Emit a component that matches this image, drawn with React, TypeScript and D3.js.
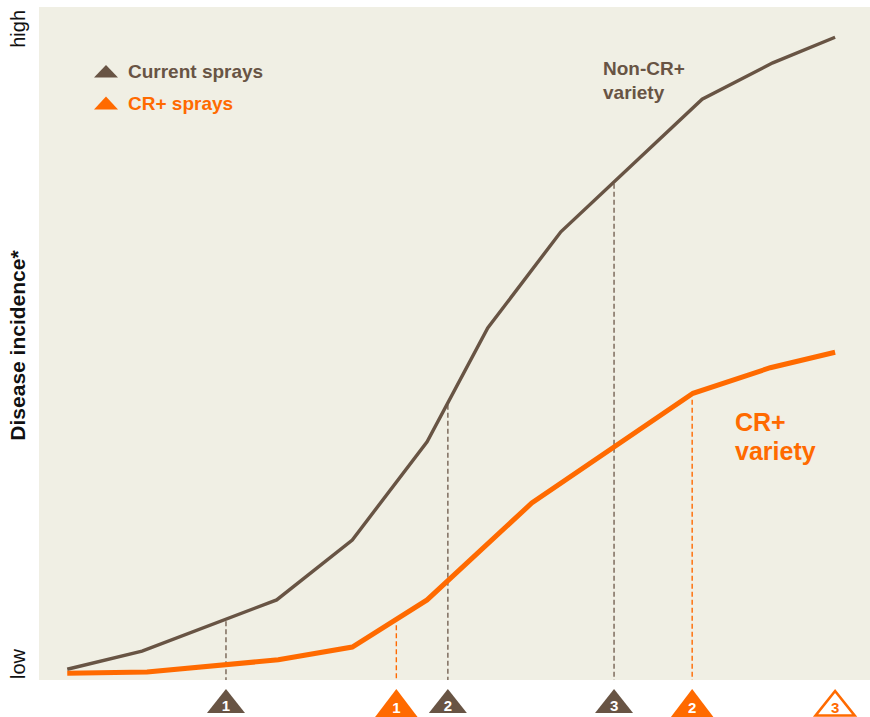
import React from "react";
import * as d3 from "d3";

// Time axis (relative season progress, 0-100) and disease incidence (0-100)
const nonCrX = [3.4, 12.4, 28.6, 37.7, 46.7, 54.0, 62.8, 79.8, 88.3, 95.8];
const nonCrY = [1.6, 4.3, 11.9, 20.8, 35.4, 52.3, 66.6, 86.3, 91.7, 95.5];
const crX = [3.4, 13.0, 28.8, 37.7, 46.7, 59.3, 78.7, 88.0, 95.8];
const crY = [1.0, 1.2, 3.0, 4.9, 11.9, 26.3, 42.6, 46.4, 48.7];

const currentSprays = [
  { label: "1", x: 22.5 },
  { label: "2", x: 49.2 },
  { label: "3", x: 69.2 },
];
const crSprays = [
  { label: "1", x: 43.0, hollow: false, dashed: true },
  { label: "2", x: 78.6, hollow: false, dashed: true },
  { label: "3", x: 95.8, hollow: true, dashed: false },
];

const yTickLabels = ["low", "high"];
const legendItems = ["Current sprays", "CR+ sprays"];

const BROWN = "#685444";
const BROWN_DASH = "#857466";
const ORANGE = "#ff6a00";
const BG = "#f0efe4";
const FONT = "'Liberation Sans', Arial, Helvetica, sans-serif";

const W = 870;
const H = 717;
const plot = { left: 39, right: 870, top: 7, bottom: 680 };

function interp(xs: number[], ys: number[], x: number) {
  for (let i = 0; i < xs.length - 1; i++) {
    if (x >= xs[i] && x <= xs[i + 1]) {
      const t = (x - xs[i]) / (xs[i + 1] - xs[i]);
      return ys[i] + t * (ys[i + 1] - ys[i]);
    }
  }
  return ys[ys.length - 1];
}

export default function App() {
  const x = d3.scaleLinear().domain([0, 100]).range([plot.left, plot.right]);
  const y = d3.scaleLinear().domain([0, 100]).range([plot.bottom, plot.top]);
  const line = d3
    .line<[number, number]>()
    .x((d) => x(d[0]))
    .y((d) => y(d[1]));

  const nonCr = nonCrX.map((v, i) => [v, nonCrY[i]] as [number, number]);
  const cr = crX.map((v, i) => [v, crY[i]] as [number, number]);

  const tri = (cx: number, top: number, bottom: number, hw: number) =>
    `M${cx},${top}L${cx + hw},${bottom}L${cx - hw},${bottom}Z`;

  return (
    <svg
      width={W}
      height={H}
      style={{ position: "absolute", left: 0, top: 0, background: "#fff" }}
      fontFamily={FONT}
    >
      <rect
        x={plot.left}
        y={plot.top}
        width={plot.right - plot.left}
        height={plot.bottom - plot.top}
        fill={BG}
      />

      {/* dashed spray lines */}
      {currentSprays.map((s, i) => (
        <line
          key={"cd" + i}
          x1={x(s.x)}
          x2={x(s.x)}
          y1={y(interp(nonCrX, nonCrY, s.x)) + 2}
          y2={plot.bottom}
          stroke={BROWN_DASH}
          strokeWidth={1.6}
          strokeDasharray="5,3"
        />
      ))}
      {crSprays
        .filter((s) => s.dashed)
        .map((s, i) => (
          <line
            key={"od" + i}
            x1={x(s.x)}
            x2={x(s.x)}
            y1={y(interp(crX, crY, s.x)) + 6}
            y2={plot.bottom}
            stroke={ORANGE}
            strokeWidth={1.4}
            strokeDasharray="5,3"
          />
        ))}

      <path d={line(nonCr) || ""} fill="none" stroke={BROWN} strokeWidth={3.4} strokeLinejoin="miter" />
      <path d={line(cr) || ""} fill="none" stroke={ORANGE} strokeWidth={5} strokeLinejoin="miter" />

      {/* spray markers */}
      {currentSprays.map((s, i) => (
        <g key={"ct" + i}>
          <path d={tri(x(s.x), 689, 713, 19)} fill={BROWN} />
          <text
            x={x(s.x)}
            y={710.5}
            textAnchor="middle"
            fill="#fff"
            fontWeight="bold"
            fontSize={15}
          >
            {s.label}
          </text>
        </g>
      ))}
      {crSprays.map((s, i) => (
        <g key={"ot" + i}>
          {s.hollow ? (
            <path
              d={tri(x(s.x), 691, 715.5, 19.5)}
              fill="#fff"
              stroke={ORANGE}
              strokeWidth={2.6}
              strokeLinejoin="miter"
            />
          ) : (
            <path d={tri(x(s.x), 689, 718, 22)} fill={ORANGE} />
          )}
          <text
            x={x(s.x)}
            y={712.5}
            textAnchor="middle"
            fill={s.hollow ? ORANGE : "#fff"}
            fontWeight="bold"
            fontSize={15}
          >
            {s.label}
          </text>
        </g>
      ))}

      {/* y axis labels */}
      <text
        transform={`translate(25,${plot.bottom - 1}) rotate(-90)`}
        fontSize={20}
        fill="#111"
        textAnchor="start"
      >
        {yTickLabels[0]}
      </text>
      <text
        transform={`translate(25,${plot.top + 3}) rotate(-90)`}
        fontSize={20}
        fill="#111"
        textAnchor="end"
      >
        {yTickLabels[1]}
      </text>
      <text
        transform={`translate(25,${(plot.top + plot.bottom) / 2 + 2}) rotate(-90)`}
        fontSize={21}
        fontWeight="bold"
        fill="#111"
        textAnchor="middle"
      >
        Disease incidence*
      </text>

      {/* legend */}
      <path d={tri(106, 65, 77.5, 12)} fill={BROWN} />
      <text x={128} y={78} fontSize={19} fontWeight="bold" fill={BROWN}>
        {legendItems[0]}
      </text>
      <path d={tri(106, 96.5, 109.5, 12)} fill={ORANGE} />
      <text x={128} y={110} fontSize={19} fontWeight="bold" fill={ORANGE}>
        {legendItems[1]}
      </text>

      {/* series labels */}
      <text x={603} y={75} fontSize={19} fontWeight="bold" fill={BROWN}>
        <tspan x={603}>Non-CR+</tspan>
        <tspan x={603} y={99}>variety</tspan>
      </text>
      <text x={735} y={431} fontSize={25} fontWeight="bold" fill={ORANGE}>
        <tspan x={735}>CR+</tspan>
        <tspan x={735} y={460}>variety</tspan>
      </text>
    </svg>
  );
}
